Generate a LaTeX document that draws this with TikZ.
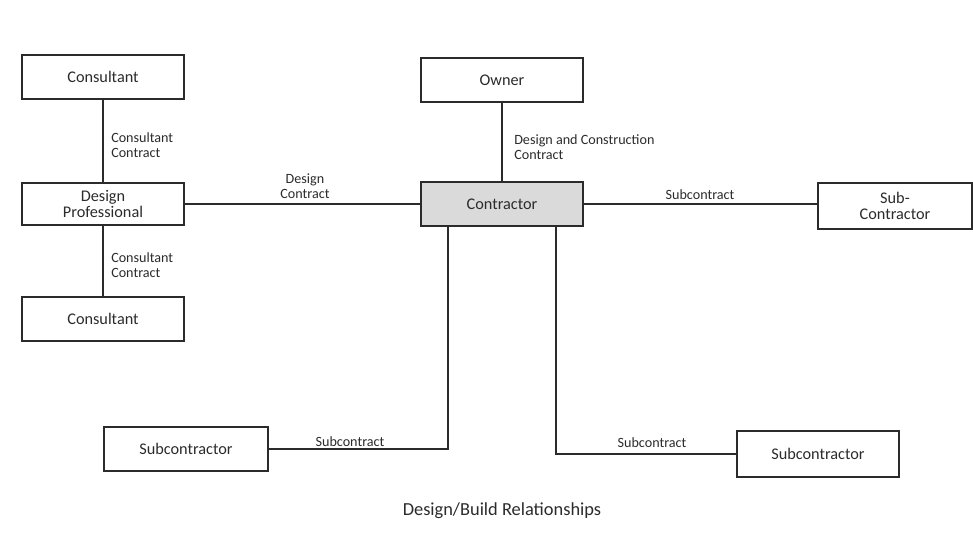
\documentclass[tikz,border=0pt]{standalone}
\usepackage{fontspec}
\setmainfont{Carlito}
\usetikzlibrary{positioning}
\definecolor{inkgray}{HTML}{2B2B2B}
\definecolor{shade}{HTML}{DADADA}
\tikzset{
  party/.style={draw=inkgray, line width=1.3pt, minimum width=#1, minimum height=33pt, inner sep=2pt,
                align=center, text=inkgray, font=\fontsize{12.2}{12.5}\selectfont},
  party/.default=121pt,
  tag/.style={inner sep=0pt, align=left, text=inkgray, font=\fontsize{10.6}{11}\selectfont},
  link/.style={draw=inkgray, line width=0.9pt},
}

\begin{document}
\begin{tikzpicture}[x=0.75pt, y=-0.75pt]
  \useasboundingbox (0,0) rectangle (973,558);
  % Design side
  \node[party=122pt] (cs1) at (103,77) {Consultant};
  \node[party=122pt, minimum height=32pt] (dp) at (103,204) {Design\\Professional};
  \node[party=122pt] (cs2) at (103,319) {Consultant};
  % Owner and contractor
  \node[party] (own) at (502,80) {Owner};
  \node[party, fill=shade] (con) at (502,204) {Contractor};
  \node[party=115pt, minimum height=34pt] (sc0) at (895,206) {Sub-\\Contractor};
  % Subcontractors
  \node[party=123pt] (sc1) at (186,449) {Subcontractor};
  \node[party=121pt, minimum height=34pt] (sc2) at (818,454) {Subcontractor};
  % Contracts
  \draw[link] (cs1) -- (dp);
  \draw[link] (dp) -- (cs2);
  \draw[link] (own) -- (con);
  \draw[link] (dp.east) -- (dp.east -| con.west);
  \draw[link] (con.east) -- (con.east -| sc0.west);
  \draw[link] ([xshift=-40.5pt]con.south) |- (sc1.east);
  \draw[link] ([xshift=40.5pt]con.south) |- (sc2.west);
  % Labels
  \node[tag, anchor=west] (l1) at (111,145) {Consultant\\Contract};
  \node[tag, anchor=west] (l2) at (111,265) {Consultant\\Contract};
  \node[tag, align=center] (l3) at (305,186) {Design\\Contract};
  \node[tag, anchor=west] (l4) at (514,147) {Design and Construction\\Contract};
  \node[tag] (l5) at (700,195) {Subcontract};
  \node[tag] (l6) at (350,442) {Subcontract};
  \node[tag] (l7) at (652,443) {Subcontract};
  \node[text=inkgray, font=\fontsize{13.8}{14}\selectfont] (cap) at (502,511) {Design/Build Relationships};
\end{tikzpicture}
\end{document}
